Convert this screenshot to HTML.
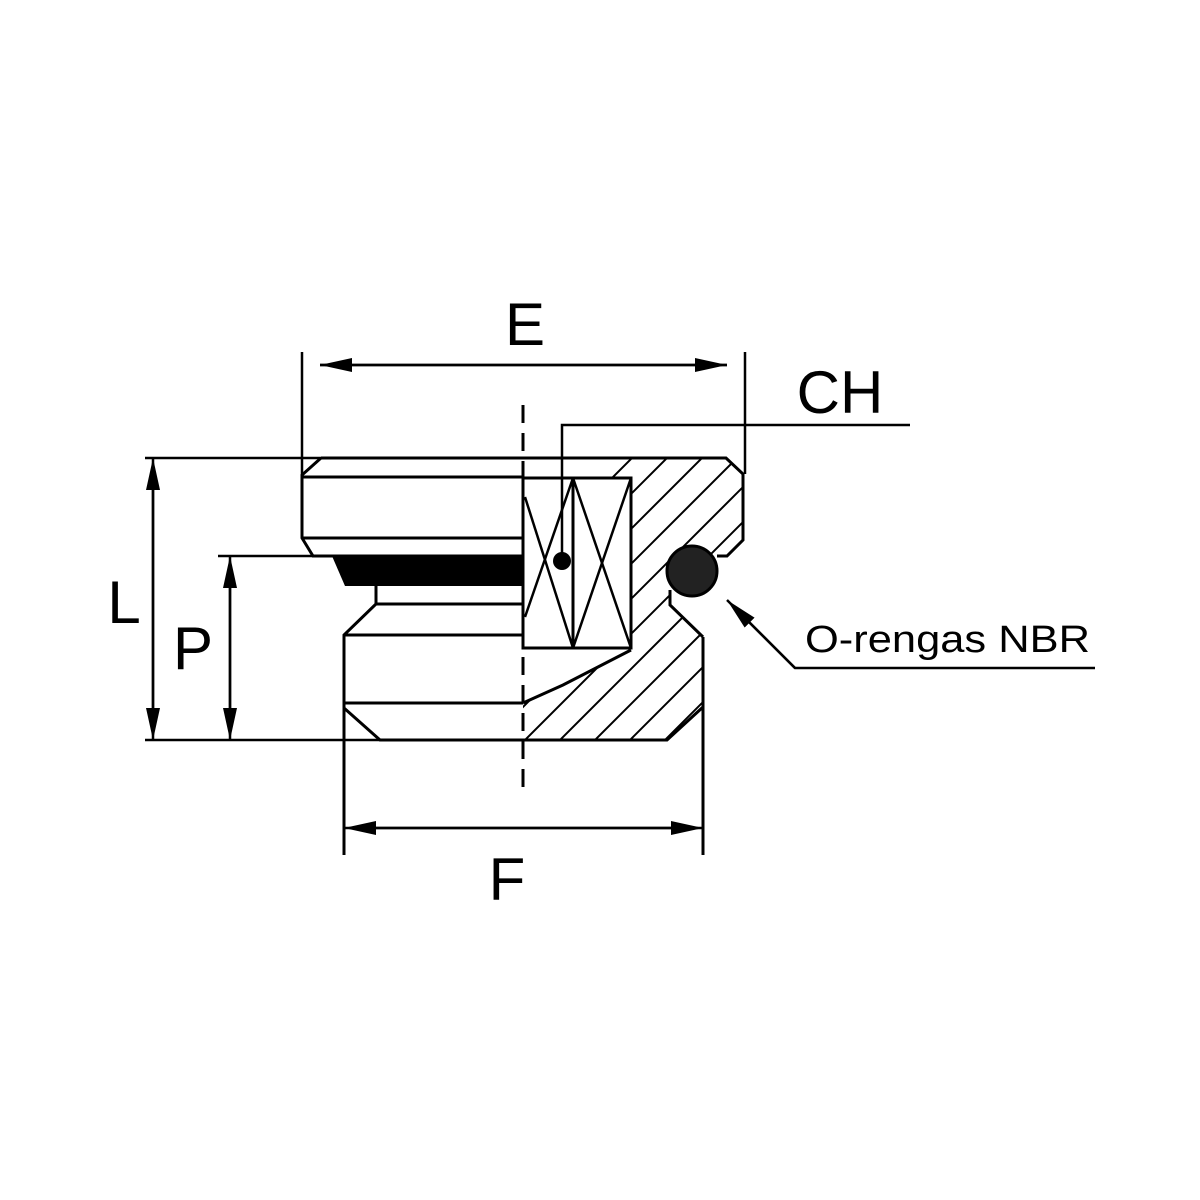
<!DOCTYPE html>
<html><head><style>body{margin:0;background:#fff}svg{display:block}</style></head><body>
<svg width="1200" height="1200" viewBox="0 0 1200 1200" xmlns="http://www.w3.org/2000/svg">
<defs>
<clipPath id="h"><polygon points="523,458 726,458 743,474 743,540 727,556 670,556 670,605 703,637 703,707 667,740 523,740 523,703 563,685 631,650 631,478 523,478"/></clipPath>
<marker id="a" markerWidth="32" markerHeight="14" refX="32" refY="7" orient="auto" markerUnits="userSpaceOnUse"><path d="M0,0 L32,7 L0,14 Z" fill="#000"/></marker>
</defs>
<g clip-path="url(#h)" stroke="#000" stroke-width="2">
<line x1="400" y1="900" x2="900" y2="400"/><line x1="435" y1="900" x2="935" y2="400"/><line x1="470" y1="900" x2="970" y2="400"/><line x1="505" y1="900" x2="1005" y2="400"/><line x1="540" y1="900" x2="1040" y2="400"/><line x1="575" y1="900" x2="1075" y2="400"/><line x1="610" y1="900" x2="1110" y2="400"/><line x1="645" y1="900" x2="1145" y2="400"/><line x1="680" y1="900" x2="1180" y2="400"/><line x1="365" y1="900" x2="865" y2="400"/><line x1="330" y1="900" x2="830" y2="400"/><line x1="295" y1="900" x2="795" y2="400"/><line x1="260" y1="900" x2="760" y2="400"/><line x1="225" y1="900" x2="725" y2="400"/><line x1="190" y1="900" x2="690" y2="400"/>
</g>
<g fill="none" stroke="#000" stroke-width="3">
<polyline points="321,458 726,458 743,474 743,540 727,556 717,556"/>
<polyline points="321,458 302,475 302,538 313,556 523,556"/>
<line x1="302" y1="477" x2="523" y2="477"/>
<line x1="302" y1="538" x2="523" y2="538"/>
<polyline points="376,586 376,604 344,635 344,855"/>
<line x1="376" y1="604" x2="523" y2="604"/>
<line x1="344" y1="635" x2="523" y2="635"/>
<line x1="344" y1="703" x2="523" y2="703"/>
<polyline points="344,708 380,740 667,740 703,707"/>
<line x1="703" y1="637" x2="703" y2="855"/>
<polyline points="670,590 670,605 703,637"/>
<rect x="523" y="478" width="108" height="170"/>
<line x1="573" y1="478" x2="573" y2="648"/>
<polyline points="631,650 563,685 523,703"/>
</g>
<g stroke="#000" stroke-width="2.5">
<line x1="573" y1="478" x2="525" y2="617"/><line x1="525" y1="497" x2="573" y2="648"/>
<line x1="573" y1="478" x2="631" y2="648"/><line x1="631" y1="478" x2="573" y2="648"/>
</g>
<polygon points="332,556 523,556 523,586 345,586" fill="#000"/>
<circle cx="692" cy="571" r="25" fill="#222" stroke="#000" stroke-width="3"/>
<line x1="523" y1="405" x2="523" y2="795" stroke="#000" stroke-width="3" stroke-dasharray="18,10"/>
<g stroke="#000" stroke-width="2.5" fill="none">
<line x1="145" y1="458" x2="321" y2="458"/>
<line x1="145" y1="740" x2="380" y2="740"/>
<line x1="218" y1="556" x2="313" y2="556"/>
<line x1="302" y1="352" x2="302" y2="475"/>
<line x1="745" y1="352" x2="745" y2="474"/>
<line x1="320" y1="365" x2="727" y2="365" marker-end="url(#a)"/>
<line x1="727" y1="365" x2="320" y2="365" marker-end="url(#a)"/>
<line x1="153" y1="472" x2="153" y2="740" marker-end="url(#a)"/>
<line x1="153" y1="726" x2="153" y2="458" marker-end="url(#a)"/>
<line x1="230" y1="570" x2="230" y2="740" marker-end="url(#a)"/>
<line x1="230" y1="726" x2="230" y2="556" marker-end="url(#a)"/>
<line x1="360" y1="828" x2="703" y2="828" marker-end="url(#a)"/>
<line x1="687" y1="828" x2="344" y2="828" marker-end="url(#a)"/>
<polyline points="910,425 562,425 562,561"/>
<polyline points="1095,668 795,668 740,613"/>
</g>
<circle cx="562" cy="561" r="9" fill="#000"/>
<line x1="795" y1="668" x2="727" y2="600" stroke="#000" stroke-width="2.5" marker-end="url(#a)"/>
<g font-family="'Liberation Sans',sans-serif" fill="#000">
<text x="525" y="345" font-size="60" text-anchor="middle">E</text>
<text x="840" y="413" font-size="60" text-anchor="middle">CH</text>
<text x="124" y="623" font-size="60" text-anchor="middle">L</text>
<text x="193" y="669" font-size="60" text-anchor="middle">P</text>
<text x="507" y="900" font-size="60" text-anchor="middle">F</text>
<text x="805" y="652" font-size="38" textLength="285" lengthAdjust="spacingAndGlyphs">O-rengas NBR</text>
</g>
</svg>
</body></html>
